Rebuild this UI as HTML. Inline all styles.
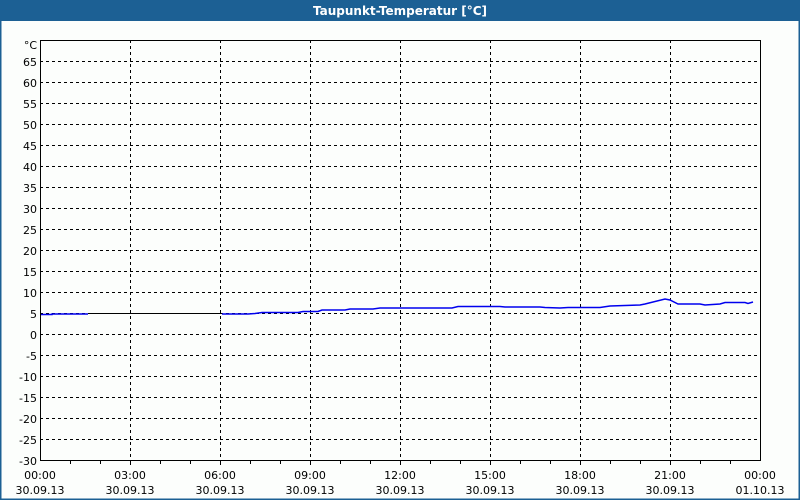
<!DOCTYPE html>
<html><head><meta charset="utf-8"><style>
body{margin:0;background:#fff;}
svg{display:block;font-family:"DejaVu Sans","Liberation Sans",sans-serif;}
</style></head><body>
<svg width="800" height="500" xmlns="http://www.w3.org/2000/svg">
<rect x="0" y="0" width="800" height="500" fill="#fcfefc"/>
<rect x="0" y="0" width="800" height="21" fill="#1c6094"/>
<rect x="0" y="0" width="1.5" height="500" fill="#1c6094"/>
<rect x="798.5" y="0" width="1.5" height="500" fill="#1c6094"/>
<rect x="0" y="498.5" width="800" height="1.5" fill="#1c6094"/>
<text x="400" y="15" fill="#fff" font-size="12" font-weight="bold" text-anchor="middle">Taupunkt-Temperatur [°C]</text>
<g stroke="#000" stroke-width="1" stroke-dasharray="3,3" shape-rendering="crispEdges">
<line x1="40" y1="61.5" x2="760" y2="61.5"/>
<line x1="40" y1="82.5" x2="760" y2="82.5"/>
<line x1="40" y1="103.5" x2="760" y2="103.5"/>
<line x1="40" y1="124.5" x2="760" y2="124.5"/>
<line x1="40" y1="145.5" x2="760" y2="145.5"/>
<line x1="40" y1="166.5" x2="760" y2="166.5"/>
<line x1="40" y1="187.5" x2="760" y2="187.5"/>
<line x1="40" y1="208.5" x2="760" y2="208.5"/>
<line x1="40" y1="229.5" x2="760" y2="229.5"/>
<line x1="40" y1="250.5" x2="760" y2="250.5"/>
<line x1="40" y1="271.5" x2="760" y2="271.5"/>
<line x1="40" y1="292.5" x2="760" y2="292.5"/>
<line x1="40" y1="313.5" x2="760" y2="313.5"/>
<line x1="40" y1="334.5" x2="760" y2="334.5"/>
<line x1="40" y1="355.5" x2="760" y2="355.5"/>
<line x1="40" y1="376.5" x2="760" y2="376.5"/>
<line x1="40" y1="397.5" x2="760" y2="397.5"/>
<line x1="40" y1="418.5" x2="760" y2="418.5"/>
<line x1="40" y1="439.5" x2="760" y2="439.5"/>
<line x1="130.5" y1="40" x2="130.5" y2="460"/>
<line x1="220.5" y1="40" x2="220.5" y2="460"/>
<line x1="310.5" y1="40" x2="310.5" y2="460"/>
<line x1="400.5" y1="40" x2="400.5" y2="460"/>
<line x1="490.5" y1="40" x2="490.5" y2="460"/>
<line x1="580.5" y1="40" x2="580.5" y2="460"/>
<line x1="670.5" y1="40" x2="670.5" y2="460"/>
</g>
<rect x="40.5" y="40.5" width="720" height="420" fill="none" stroke="#000" stroke-width="1" shape-rendering="crispEdges"/>
<g stroke="#000" shape-rendering="crispEdges">
<line x1="70.5" y1="461" x2="70.5" y2="464"/><line x1="100.5" y1="461" x2="100.5" y2="464"/><line x1="130.5" y1="461" x2="130.5" y2="465"/>
<line x1="160.5" y1="461" x2="160.5" y2="464"/><line x1="190.5" y1="461" x2="190.5" y2="464"/><line x1="220.5" y1="461" x2="220.5" y2="465"/>
<line x1="250.5" y1="461" x2="250.5" y2="464"/><line x1="280.5" y1="461" x2="280.5" y2="464"/><line x1="310.5" y1="461" x2="310.5" y2="465"/>
<line x1="340.5" y1="461" x2="340.5" y2="464"/><line x1="370.5" y1="461" x2="370.5" y2="464"/><line x1="400.5" y1="461" x2="400.5" y2="465"/>
<line x1="430.5" y1="461" x2="430.5" y2="464"/><line x1="460.5" y1="461" x2="460.5" y2="464"/><line x1="490.5" y1="461" x2="490.5" y2="465"/>
<line x1="520.5" y1="461" x2="520.5" y2="464"/><line x1="550.5" y1="461" x2="550.5" y2="464"/><line x1="580.5" y1="461" x2="580.5" y2="465"/>
<line x1="610.5" y1="461" x2="610.5" y2="464"/><line x1="640.5" y1="461" x2="640.5" y2="464"/><line x1="670.5" y1="461" x2="670.5" y2="465"/>
<line x1="700.5" y1="461" x2="700.5" y2="464"/><line x1="730.5" y1="461" x2="730.5" y2="464"/>
</g>
<g font-size="11" fill="#000" text-anchor="end">
<text x="37" y="49">°C</text>
<text x="37" y="66">65</text><text x="37" y="87">60</text><text x="37" y="108">55</text><text x="37" y="129">50</text>
<text x="37" y="150">45</text><text x="37" y="171">40</text><text x="37" y="192">35</text><text x="37" y="213">30</text>
<text x="37" y="234">25</text><text x="37" y="255">20</text><text x="37" y="276">15</text><text x="37" y="297">10</text>
<text x="37" y="318">5</text><text x="37" y="339">0</text><text x="37" y="360">-5</text><text x="37" y="381">-10</text>
<text x="37" y="402">-15</text><text x="37" y="423">-20</text><text x="37" y="444">-25</text><text x="37" y="465">-30</text>
</g>
<g font-size="11" fill="#000" text-anchor="middle">
<text x="40" y="479">00:00</text><text x="40" y="494">30.09.13</text>
<text x="130" y="479">03:00</text><text x="130" y="494">30.09.13</text>
<text x="220" y="479">06:00</text><text x="220" y="494">30.09.13</text>
<text x="310" y="479">09:00</text><text x="310" y="494">30.09.13</text>
<text x="400" y="479">12:00</text><text x="400" y="494">30.09.13</text>
<text x="490" y="479">15:00</text><text x="490" y="494">30.09.13</text>
<text x="580" y="479">18:00</text><text x="580" y="494">30.09.13</text>
<text x="670" y="479">21:00</text><text x="670" y="494">30.09.13</text>
<text x="760" y="479">00:00</text><text x="760" y="494">01.10.13</text>
</g>
<polyline fill="none" stroke="#000" stroke-width="1" points="88,313.5 222,313.5"/>
<polyline fill="none" stroke="#0000ee" stroke-width="1.5" points="41,314.5 52,314.5 52,314 88,314"/>
<polyline fill="none" stroke="#0000ee" stroke-width="1.5" points="222,314 248,314 255,313.5 262,312.5 298,312.5 303,311.5 318,311.5 322,310 345,310 350,309 373,309 380,308 452,308 458,306.5 500,306.5 505,307 540,307 545,307.5 560,308 568,307.5 580,307.5 600,307.5 610,306 640,305 645,304 665,299 670,300 678,304 700,304 705,305 720,304 725,302.5 745,302.5 748,303.5 753,302"/>
</svg>
</body></html>
